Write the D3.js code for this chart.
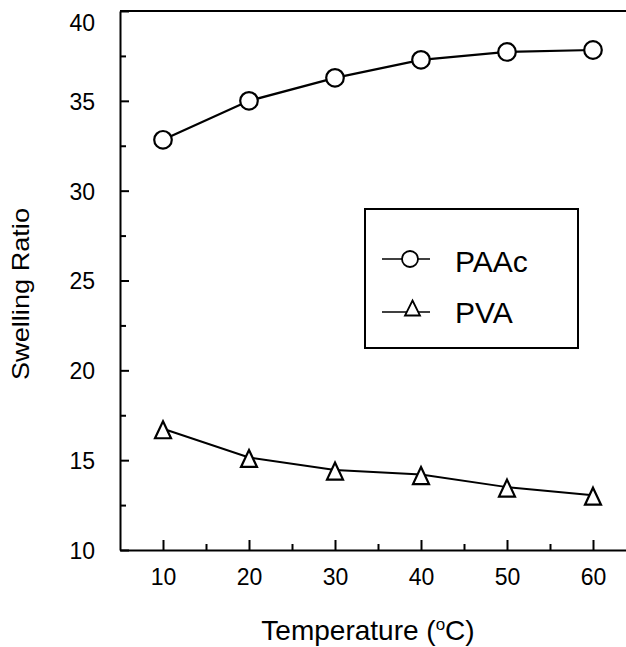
<!DOCTYPE html>
<html>
<head>
<meta charset="utf-8">
<script src="https://cdn.jsdelivr.net/npm/d3@7"></script>
<style>
  html, body { margin: 0; padding: 0; background: #fff; }
  svg { display: block; font-family: "Liberation Sans", Arial, Helvetica, sans-serif; }
</style>
</head>
<body>
<svg id="chart" width="626" height="647"></svg>
<script>
// ---- data ----
const temperatures = [10, 20, 30, 40, 50, 60];
const paacValues = [32.83, 35.0, 36.28, 37.28, 37.72, 37.83];
const pvaValues = [16.75, 15.15, 14.45, 14.2, 13.5, 13.05];
const seriesNames = ["PAAc", "PVA"];
const xMajorTicks = [10, 20, 30, 40, 50, 60];
const xMinorTicks = [15, 25, 35, 45, 55];
const yMajorTicks = [10, 15, 20, 25, 30, 35, 40];
const yMinorTicks = [12.5, 17.5, 22.5, 27.5, 32.5, 37.5];
const xTitle = "Temperature (";
const yTitle = "Swelling Ratio";

const svg = d3.select("#chart");
const x = d3.scaleLinear().domain([5, 65]).range([120, 636]);
const y = d3.scaleLinear().domain([10, 40]).range([550, 11]);

const stroke = "#000";

// top frame line
svg.append("line")
  .attr("x1", x(5)).attr("x2", x(65))
  .attr("y1", y(40)).attr("y2", y(40))
  .attr("stroke", stroke).attr("stroke-width", 2);

// bottom axis (major)
const gx = svg.append("g").attr("transform", `translate(0,${y(10)})`)
  .call(d3.axisBottom(x).tickValues(xMajorTicks).tickSizeInner(-10).tickSizeOuter(0).tickPadding(19));
gx.select(".domain").attr("stroke-width", 2);
gx.selectAll(".tick line").attr("stroke-width", 2);
gx.selectAll(".tick text").attr("font-size", 23).attr("font-family", "Liberation Sans, Arial, sans-serif").attr("fill", "#000");
// minor
const gxm = svg.append("g").attr("transform", `translate(0,${y(10)})`)
  .call(d3.axisBottom(x).tickValues(xMinorTicks).tickSizeInner(-6).tickSizeOuter(0).tickFormat(""));
gxm.select(".domain").remove();
gxm.selectAll(".tick line").attr("stroke-width", 2);

// left axis (major)
const gy = svg.append("g").attr("transform", `translate(${x(5)},0)`)
  .call(d3.axisLeft(y).tickValues(yMajorTicks).tickSizeInner(-9).tickSizeOuter(0).tickPadding(25));
gy.select(".domain").attr("stroke-width", 2);
gy.selectAll(".tick line").attr("stroke-width", 2);
gy.selectAll(".tick text").attr("font-size", 23).attr("font-family", "Liberation Sans, Arial, sans-serif").attr("fill", "#000")
  .attr("y", d => d === 40 ? 12 : 1);
const gym = svg.append("g").attr("transform", `translate(${x(5)},0)`)
  .call(d3.axisLeft(y).tickValues(yMinorTicks).tickSizeInner(-6).tickSizeOuter(0).tickFormat(""));
gym.select(".domain").remove();
gym.selectAll(".tick line").attr("stroke-width", 2);

// lines
const line = d3.line().x(d => x(d[0])).y(d => y(d[1]));
const paac = temperatures.map((t, i) => [t, paacValues[i]]);
const pva = temperatures.map((t, i) => [t, pvaValues[i]]);

svg.append("path").datum(paac).attr("d", line)
  .attr("fill", "none").attr("stroke", stroke).attr("stroke-width", 2.2);
svg.append("path").datum(pva).attr("d", line)
  .attr("fill", "none").attr("stroke", stroke).attr("stroke-width", 2);

// markers
svg.selectAll("circle.paac").data(paac).enter().append("circle")
  .attr("class", "paac")
  .attr("cx", d => x(d[0])).attr("cy", d => y(d[1])).attr("r", 8.8)
  .attr("fill", "#fff").attr("stroke", stroke).attr("stroke-width", 2.2);

function triPath(cx, cy, w, h) {
  return `M${cx},${cy - h / 2 - 1}L${cx + w / 2},${cy + h / 2 - 1}L${cx - w / 2},${cy + h / 2 - 1}Z`;
}
svg.selectAll("path.pva").data(pva).enter().append("path")
  .attr("class", "pva")
  .attr("d", d => triPath(x(d[0]), y(d[1]) + 2, 16, 17))
  .attr("fill", "#fff").attr("stroke", stroke).attr("stroke-width", 2.2)
  .attr("stroke-linejoin", "miter");

// legend
const lg = svg.append("g");
lg.append("rect").attr("x", 365).attr("y", 209).attr("width", 213).attr("height", 139)
  .attr("fill", "#fff").attr("stroke", stroke).attr("stroke-width", 2);
// PAAc entry
lg.append("line").attr("x1", 382).attr("x2", 430).attr("y1", 259).attr("y2", 259)
  .attr("stroke", stroke).attr("stroke-width", 1.6);
lg.append("circle").attr("cx", 410).attr("cy", 259).attr("r", 8)
  .attr("fill", "#fff").attr("stroke", stroke).attr("stroke-width", 1.8);
lg.append("text").attr("x", 455).attr("y", 272).attr("font-size", 30).text(seriesNames[0]);
// PVA entry
lg.append("line").attr("x1", 382).attr("x2", 430).attr("y1", 312).attr("y2", 312)
  .attr("stroke", stroke).attr("stroke-width", 1.6);
lg.append("path").attr("d", triPath(412.5, 309, 15, 15))
  .attr("fill", "#fff").attr("stroke", stroke).attr("stroke-width", 1.8);
lg.append("text").attr("x", 455).attr("y", 323).attr("font-size", 30).text(seriesNames[1]);

// axis titles
const xt = svg.append("text").attr("x", 368).attr("y", 640)
  .attr("text-anchor", "middle").attr("font-size", 28);
xt.append("tspan").text(xTitle);
xt.append("tspan").attr("font-size", 17).attr("dy", -10).text("o");
xt.append("tspan").attr("dy", 10).text("C)");

svg.append("text")
  .attr("transform", "translate(29,294) rotate(-90)")
  .attr("text-anchor", "middle").attr("font-size", 24)
  .attr("textLength", 172).attr("lengthAdjust", "spacingAndGlyphs")
  .text(yTitle);
</script>
</body>
</html>
